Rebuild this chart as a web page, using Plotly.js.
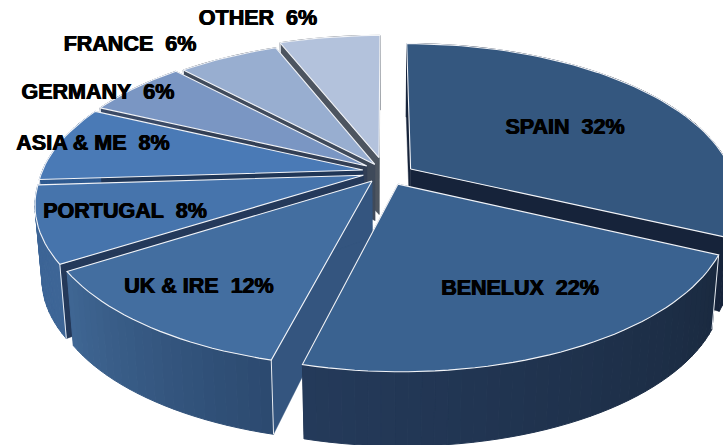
<!DOCTYPE html>
<html><head><meta charset="utf-8">
<script src="https://cdn.plot.ly/plotly-3.0.1.min.js"></script>
<style>html,body{margin:0;padding:0;background:#fff}#c{width:723px;height:445px}</style>
</head><body><div id="c"></div><script>
const categories = ["SPAIN","BENELUX","UK & IRE","PORTUGAL","ASIA & ME","GERMANY","FRANCE","OTHER"];
const shares = [32,22,12,8,8,6,6,6];
const pullU = [0.08,0.04,-0.04,-0.067,-0.069,-0.057,-0.032,-0.019];
const pullV = [-0.02,0.08,0.06,0.022,-0.013,-0.041,-0.051,-0.098];
const topColors = ["#34577f","#3a6290","#436ea0","#4674ac","#4a7ab6","#7a96c3","#98aed0","#b3c2dc"];
const wallStart = ["#16233a","#1a2a40","#2c4a70","#3d6596","#2f5a90","#3a4a66","#404b5c","#4d5560"];
const wallEnd = ["#16233a","#243a5a","#3f6693","#3d6596","#2f5a90","#3a4a66","#404b5c","#4d5560"];
const radialColors = ["#16233a","#16233a","#34557f","#24395a","#203656","#323f55","#3f4a5a","#4d5560"];
const labelX = [565,520,199,125,93,98,130,258];
const labelY = [129,290,288,213,145,94,46,20];
const paintOrder = [0,7,6,5,4,3,2,1];

const cx=385, cy=172, rx=321, ry=149, k=0.18;
function proj(u,v,down){
  const s=1/(1-k*v), r=Math.min(1.1,Math.hypot(u,v));
  let x=cx+rx*u*s, y=cy+ry*v*s;
  if(down){ x=cx+(x-cx)*0.98; y+=55+18*r; }
  return [x,y];
}
function hex(c){return [1,3,5].map(i=>parseInt(c.slice(i,i+2),16));}
function mix(a,b,t){const A=hex(a),B=hex(b);return `rgb(${A.map((v,i)=>Math.round(v+(B[i]-v)*t)).join(",")})`;}
function poly(pts,fill,line,w){
  return {type:"scatter",mode:"lines",x:pts.map(p=>p[0]).concat(pts[0][0]),y:pts.map(p=>p[1]).concat(pts[0][1]),
    fill:"toself",fillcolor:fill,line:{color:line,width:w},hoverinfo:"skip",showlegend:false};
}
function edge(p,q){
  return {type:"scatter",mode:"lines",x:[p[0],q[0]],y:[p[1],q[1]],line:{color:"#e8ecf2",width:1},hoverinfo:"skip",showlegend:false};
}
const total=shares.reduce((a,b)=>a+b,0);
let acc=0; const slices=shares.map((v,i)=>{const a0=acc/total*2*Math.PI; acc+=v; const a1=acc/total*2*Math.PI; return {a0,a1,i};});
const traces=[];
paintOrder.forEach(idx=>{
  const {a0,a1,i}=slices[idx];
  const ox=pullU[i], oy=pullV[i];
  const n=Math.max(8,Math.round((a1-a0)*30));
  const rim=[];
  for(let j=0;j<=n;j++){const a=a0+(a1-a0)*j/n; rim.push([ox+Math.sin(a),oy-Math.cos(a)]);}
  const A=[ox,oy];
  [rim[0],rim[n]].forEach(E=>{
    const c=radialColors[i];
    traces.push(poly([proj(A[0],A[1]),proj(E[0],E[1]),proj(E[0],E[1],1),proj(A[0],A[1],1)],c,c,0.4));
  });
  for(let j=0;j<n;j++){
    const c=mix(wallStart[i],wallEnd[i],j/(n-1));
    const p=rim[j],q=rim[j+1];
    traces.push(poly([proj(p[0],p[1]),proj(q[0],q[1]),proj(q[0],q[1],1),proj(p[0],p[1],1)],c,c,1));
  }
  if(i>=1){ const E=rim[0]; traces.push(edge(proj(E[0],E[1]),proj(E[0],E[1],1))); }
  const top=[proj(A[0],A[1])].concat(rim.map(p=>proj(p[0],p[1])));
  traces.push(poly(top,topColors[i],"#f2f4f8",1.1));
});
traces.push({type:"scatter",mode:"text",x:labelX,y:labelY,
  text:categories.map((c,i)=>c+"\u00a0\u00a0"+shares[i]+"%"),textposition:"middle center",
  textfont:{family:"Liberation Sans",size:21.5,color:"#000",weight:700,shadow:"0.5px 0 0 #000, -0.5px 0 0 #000"},hoverinfo:"skip",showlegend:false});
const hidden={visible:false,fixedrange:true};
Plotly.newPlot("c",traces,{width:723,height:445,margin:{l:0,r:0,t:0,b:0},paper_bgcolor:"#fff",plot_bgcolor:"#fff",showlegend:false,
  xaxis:Object.assign({range:[0,723]},hidden),yaxis:Object.assign({range:[445,0]},hidden)},{displayModeBar:false,staticPlot:true});
</script></body></html>
